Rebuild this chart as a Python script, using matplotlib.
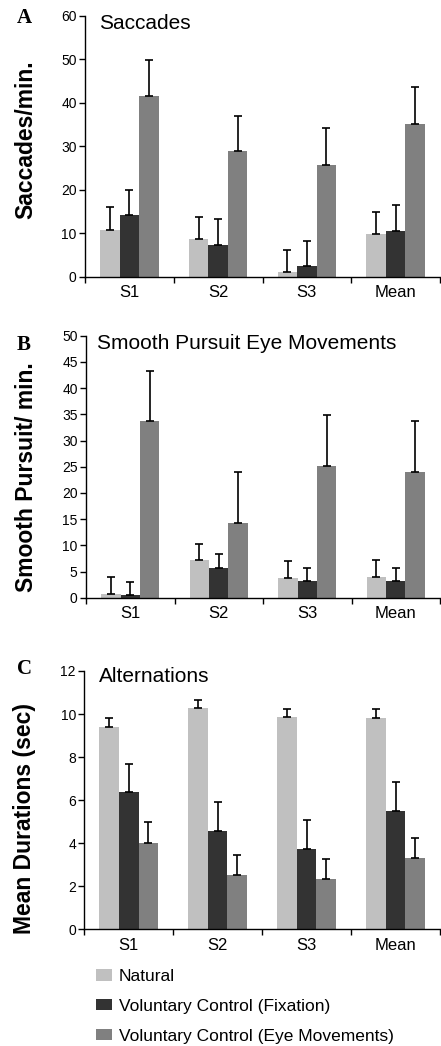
import matplotlib
matplotlib.use('Agg')
import matplotlib.pyplot as plt
from matplotlib.patches import Patch
import numpy as np

plt.rcParams['font.family'] = ['Liberation Sans', 'DejaVu Sans']

# Datos
sujetos = ['S1', 'S2', 'S3', 'Mean']
series = ['Natural', 'Voluntary Control (Fixation)', 'Voluntary Control (Eye Movements)']
colores = ['#c0c0c0', '#333333', '#808080']

# A: Saccades (media, extremo superior de la barra de error)
sac_val = [[10.7, 8.6, 1.0, 9.8],
           [14.1, 7.2, 2.4, 10.6],
           [41.6, 29.0, 25.7, 35.1]]
sac_top = [[16.0, 13.7, 6.1, 14.9],
           [19.9, 13.2, 8.2, 16.5],
           [49.9, 37.0, 34.1, 43.5]]

# B: Smooth pursuit
sp_val = [[0.8, 7.2, 3.75, 3.9],
          [0.45, 5.7, 3.1, 3.1],
          [33.7, 14.25, 25.1, 23.9]]
sp_top = [[3.9, 10.3, 7.0, 7.25],
          [3.05, 8.4, 5.7, 5.7],
          [43.3, 23.9, 34.9, 33.65]]

# C: Alternations
alt_val = [[9.38, 10.26, 9.86, 9.81],
           [6.38, 4.57, 3.73, 5.5],
           [4.01, 2.52, 2.34, 3.31]]
alt_top = [[9.83, 10.66, 10.25, 10.25],
           [7.69, 5.93, 5.08, 6.83],
           [5.0, 3.44, 3.28, 4.23]]

W, H = 441, 1046
fig = plt.figure(figsize=(W / 100, H / 100), dpi=100)


def px_axes(left, top, right, bottom):
    return fig.add_axes([left / W, 1 - bottom / H, (right - left) / W, (bottom - top) / H])


def panel(box, vals, tops, ymax, ystep, ylabel, title, letter, title_xy, letter_xy, ylabel_xy):
    ax = px_axes(*box)
    x = np.arange(len(sujetos))
    w = 0.22
    for i in range(3):
        v = np.array(vals[i])
        t = np.array(tops[i])
        ax.bar(x + (i - 1) * w, v, width=w, color=colores[i], zorder=2)
        ax.errorbar(x + (i - 1) * w, v, yerr=[np.zeros_like(v), t - v], fmt='none',
                    ecolor='black', elinewidth=1.2, capsize=3, capthick=1.2, zorder=3)
    ax.set_xlim(-0.5, 3.5)
    ax.set_ylim(0, ymax)
    ax.set_yticks(np.arange(0, ymax + 0.01, ystep))
    ax.set_xticks(x)
    ax.set_xticklabels(sujetos, fontsize=12)
    ax.set_xticks([-0.5, 0.5, 1.5, 2.5, 3.5], minor=True)
    ax.tick_params(axis='x', which='major', length=0, pad=6)
    ax.tick_params(axis='x', which='minor', length=4, width=1, direction='out')
    ax.tick_params(axis='y', labelsize=10, length=4, width=1, pad=2)
    for s in ['top', 'right']:
        ax.spines[s].set_visible(False)
    ax.spines['left'].set_linewidth(1)
    ax.spines['bottom'].set_linewidth(1)
    fig.text(title_xy[0] / W, 1 - title_xy[1] / H, title, fontsize=15, va='top', ha='left')
    fig.text(letter_xy[0] / W, 1 - letter_xy[1] / H, letter, fontsize=15, fontweight='bold',
             family='Liberation Serif', va='top', ha='left')
    fig.text(ylabel_xy[0] / W, 1 - ylabel_xy[1] / H, ylabel, fontsize=16.5, fontweight='bold',
             rotation=90, va='center', ha='center')
    return ax


panel((85, 15.7, 440, 276.7), sac_val, sac_top, 60, 10, 'Saccades/min.', 'Saccades', 'A',
      (99, 14), (17, 8), (26, 140))
panel((86, 335.7, 440, 597.7), sp_val, sp_top, 50, 5, 'Smooth Pursuit/ min.',
      'Smooth Pursuit Eye Movements', 'B', (97, 334), (17, 335), (27, 477))
panel((84.3, 671, 440, 929.3), alt_val, alt_top, 12, 2, 'Mean Durations (sec)', 'Alternations', 'C',
      (99, 667), (17, 659), (25, 818))

handles = [Patch(facecolor=c, edgecolor='none') for c in colores]
fig.legend(handles, series, loc='upper left', bbox_to_anchor=(96 / W, 1 - 969 / H),
           frameon=False, fontsize=12.5, handlelength=0.9, handleheight=0.65,
           handletextpad=0.4, labelspacing=0.85, borderaxespad=0, borderpad=0)

fig.savefig('out.png', dpi=100)
